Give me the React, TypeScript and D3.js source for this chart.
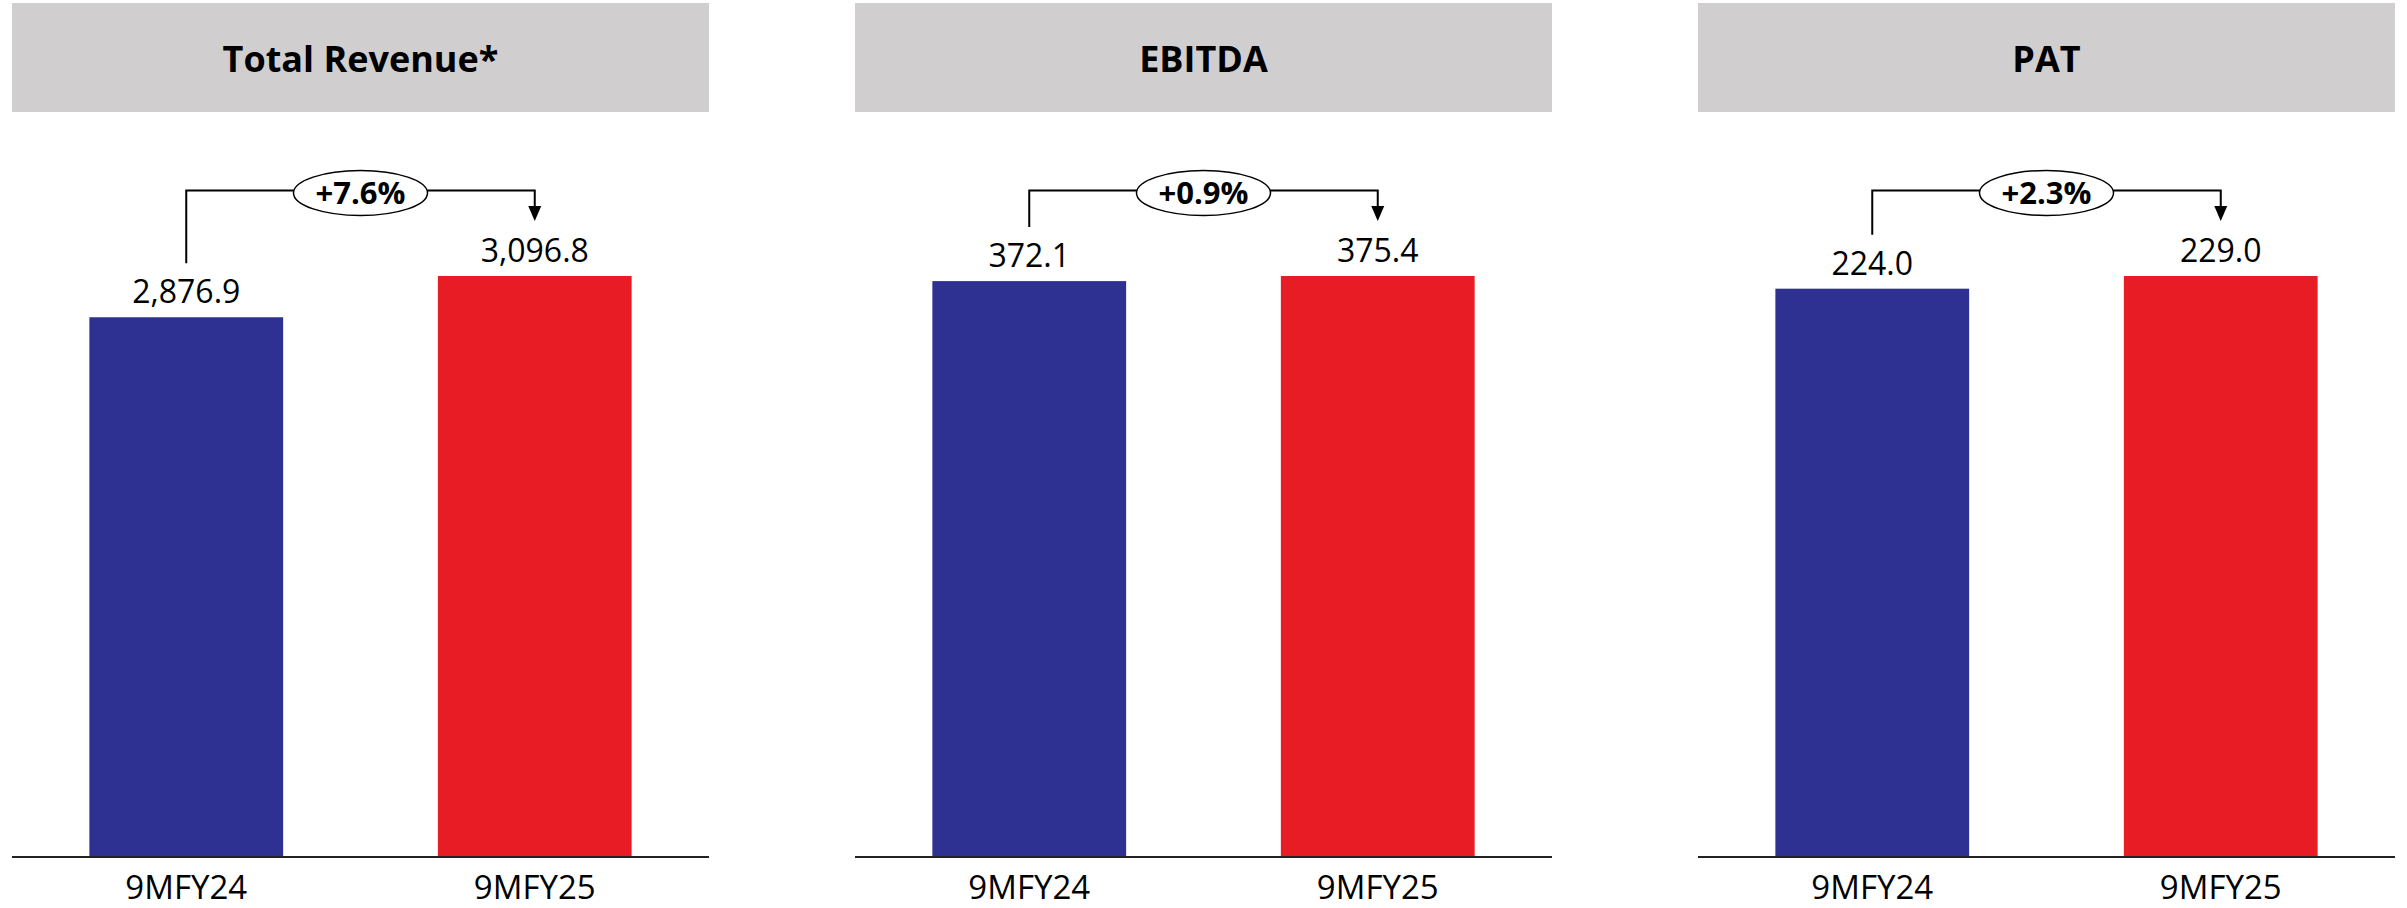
import React from "react";
import * as d3 from "d3";

const panelTitles = ["Total Revenue*", "EBITDA", "PAT"];
const periods = ["9MFY24", "9MFY25"];
const revenueValues = [2876.9, 3096.8];
const ebitdaValues = [372.1, 375.4];
const patValues = [224.0, 229.0];
const growthLabels = ["+7.6%", "+0.9%", "+2.3%"];
const valueLabels = [["2,876.9", "3,096.8"], ["372.1", "375.4"], ["224.0", "229.0"]];

const seriesList = [revenueValues, ebitdaValues, patValues];
const barColors = ["#2E3192", "#E81C24"];

const W = 2407;
const H = 908;
const panelX0 = [12, 855, 1698];
const panelW = 697;
const baseY = 857;
const topY = 276;
const FONT = "'Open Sans', sans-serif";

function Panel({ idx }: { idx: number }) {
  const x0 = panelX0[idx];
  const vals = seriesList[idx];
  const x = d3
    .scaleBand<string>()
    .domain(periods)
    .range([x0, x0 + panelW])
    .paddingInner(0.444)
    .paddingOuter(0.222);
  const y = d3.scaleLinear().domain([0, d3.max(vals) as number]).range([baseY, topY]);
  const bw = x.bandwidth();
  const cx = x0 + panelW / 2;
  const c0 = (x(periods[0]) as number) + bw / 2;
  const c1 = (x(periods[1]) as number) + bw / 2;
  const lineY = 190.5;
  const leftBottom = y(vals[0]) - 54;
  const tipY = y(vals[1]) - 55;
  const ah = 15;
  const aw = 6.5;
  return (
    <g>
      <rect x={x0} y={3} width={panelW} height={109} fill="#D0CECF" />
      <text
        x={cx}
        y={72}
        textAnchor="middle"
        fontFamily={FONT}
        fontWeight="bold"
        fontSize={36}
        fill="#000"
      >
        {panelTitles[idx]}
      </text>
      {periods.map((p, i) => (
        <g key={p}>
          <rect
            x={x(p) as number}
            y={y(vals[i])}
            width={bw}
            height={baseY - y(vals[i])}
            fill={barColors[i]}
          />
          <text
            x={(x(p) as number) + bw / 2}
            y={y(vals[i]) - 14}
            textAnchor="middle"
            fontFamily={FONT}
            fontSize={32}
            fill="#000"
          >
            {valueLabels[idx][i]}
          </text>
          <text
            x={(x(p) as number) + bw / 2}
            y={899}
            textAnchor="middle"
            fontFamily={FONT}
            fontSize={33}
            fill="#000"
          >
            {p}
          </text>
        </g>
      ))}
      <line x1={x0} x2={x0 + panelW} y1={baseY} y2={baseY} stroke="#222" strokeWidth={2} />
      <path
        d={`M${c0},${leftBottom}V${lineY}H${c1}V${tipY - ah}`}
        fill="none"
        stroke="#000"
        strokeWidth={2}
      />
      <path d={`M${c1 - aw},${tipY - ah}L${c1 + aw},${tipY - ah}L${c1},${tipY}Z`} fill="#000" />
      <ellipse cx={cx} cy={193} rx={67} ry={22.5} fill="#fff" stroke="#000" strokeWidth={1.5} />
      <text
        x={cx}
        y={204}
        textAnchor="middle"
        fontFamily={FONT}
        fontWeight="bold"
        fontSize={31}
        fill="#000"
      >
        {growthLabels[idx]}
      </text>
    </g>
  );
}

export default function App() {
  return (
    <svg
      width={W}
      height={H}
      style={{ position: "absolute", left: 0, top: 0, background: "#fff" }}
    >
      <rect x={0} y={0} width={W} height={H} fill="#fff" />
      {panelTitles.map((t, i) => (
        <Panel key={t} idx={i} />
      ))}
    </svg>
  );
}
